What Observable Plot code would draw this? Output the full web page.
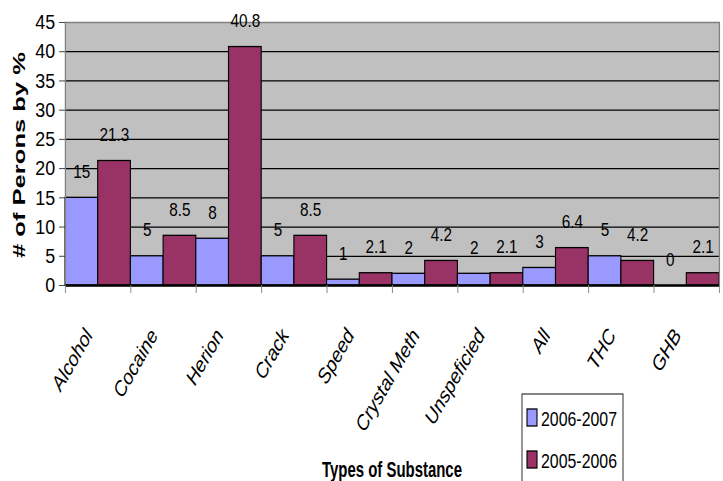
<!DOCTYPE html>
<html>
<head>
<meta charset="utf-8">
<script src="https://cdn.jsdelivr.net/npm/d3@7"></script>
<script src="https://cdn.jsdelivr.net/npm/@observablehq/plot@0.6"></script>
<style>
  html, body { margin: 0; padding: 0; background: #fff; }
  #chart { width: 723px; height: 481px; overflow: hidden; }
</style>
</head>
<body>
<div id="chart"></div>
<script>
// Substance categories and the share of persons (%) per reporting year
const substances = ["Alcohol", "Cocaine", "Herion", "Crack", "Speed", "Crystal Meth", "Unspeficied", "All", "THC", "GHB"];
const years = ["2006-2007", "2005-2006"];
const values2006_2007 = [15, 5, 8, 5, 1, 2, 2, 3, 5, 0];
const values2005_2006 = [21.3, 8.5, 40.8, 8.5, 2.1, 4.2, 2.1, 6.4, 4.2, 2.1];
const yTicks = [0, 5, 10, 15, 20, 25, 30, 35, 40, 45];
const yTitle = "# of Perons by %";
const xTitle = "Types of Substance";

// The chart is laid out on a wider canvas and squeezed horizontally to the page
const OUT_W = 723, OUT_H = 481;
const W = 850, H = OUT_H;
const sx = W / OUT_W;

// One row per bar; each category takes two adjacent slots
const rows = substances.flatMap((s, i) => [
  {substance: s, year: years[0], value: values2006_2007[i], slot: i * 2},
  {substance: s, year: years[1], value: values2005_2006[i], slot: i * 2 + 1}
]);

const font = "'Liberation Sans', Arial, sans-serif";

const svg = Plot.plot({
  width: W,
  height: H,
  marginLeft: 65 * sx,
  marginRight: W - 719 * sx,
  marginTop: 22,
  marginBottom: H - 285,
  x: {domain: [0, substances.length * 2], axis: null},
  y: {domain: [0, 45], axis: null},
  color: {domain: years, range: ["#9999FF", "#993366"]},
  style: {fontFamily: font, background: "transparent", color: "#000", overflow: "visible"},
  marks: [
    Plot.frame({fill: "#C0C0C0"}),
    Plot.ruleY(yTicks.filter(t => t > 0 && t < 45), {stroke: "#000", strokeWidth: 1.2}),
    Plot.rectY(rows, {x1: "slot", x2: d => d.slot + 1, y: "value", fill: "year", stroke: "#000", strokeWidth: 1.3}),
    Plot.frame({stroke: "#808080", strokeWidth: 1.5}),
    Plot.ruleY([0], {stroke: "#000", strokeWidth: 2.5}),
    Plot.axisY({ticks: yTicks, tickSize: 7, tickPadding: 5, fontSize: 21, label: null, stroke: "#333"}),
    Plot.axisX({ticks: d3.range(0, substances.length * 2 + 1, 2), tickFormat: () => "", tickSize: 8, label: null, stroke: "#808080"}),
    Plot.text(substances, {
      x: (d, i) => i * 2 + 1, y: 0, text: d => d,
      rotate: -56, textAnchor: "end", dx: -11, dy: 46,
      fontSize: 21, fontStyle: "italic", fill: "#000"
    }),
    Plot.text(rows, {
      x: d => d.slot + 0.5, y: "value", text: d => String(d.value),
      lineAnchor: "bottom", dy: -20, fontSize: 18, fill: "#000"
    })
  ]
});

const color = svg.scale("color");
const root = d3.select(svg);

// Axis titles
root.append("text")
  .attr("transform", `translate(${19 * sx},155) rotate(-90)`)
  .attr("text-anchor", "middle")
  .attr("dominant-baseline", "central")
  .attr("font-family", font).attr("font-weight", "bold").attr("font-size", 20)
  .attr("textLength", 206).attr("lengthAdjust", "spacingAndGlyphs")
  .text(yTitle);

root.append("text")
  .attr("x", 392 * sx).attr("y", 477)
  .attr("text-anchor", "middle")
  .attr("font-family", font).attr("font-weight", "bold").attr("font-size", 22)
  .attr("textLength", 140 * sx).attr("lengthAdjust", "spacingAndGlyphs")
  .text(xTitle);

// Legend box
const lg = root.append("g").attr("text-anchor", "start");
lg.append("rect")
  .attr("x", 522 * sx).attr("y", 394)
  .attr("width", 101 * sx).attr("height", 120)
  .attr("fill", "#fff").attr("stroke", "#333").attr("stroke-width", 1.2);
years.forEach((yr, i) => {
  const top = 409 + i * 42;
  lg.append("rect")
    .attr("x", 527 * sx).attr("y", top)
    .attr("width", 10 * sx).attr("height", 17)
    .attr("fill", color.apply(yr)).attr("stroke", "#000").attr("stroke-width", 1.3);
  lg.append("text")
    .attr("x", 541 * sx).attr("y", top + 17)
    .attr("text-anchor", "start")
    .attr("font-family", font).attr("font-size", 21)
    .attr("textLength", 76 * sx).attr("lengthAdjust", "spacingAndGlyphs")
    .text(yr);
});

svg.setAttribute("viewBox", `0 0 ${W} ${H}`);
svg.setAttribute("preserveAspectRatio", "none");
svg.setAttribute("width", OUT_W);
svg.setAttribute("height", OUT_H);
svg.style.width = OUT_W + "px";
svg.style.height = OUT_H + "px";
svg.style.maxWidth = "none";
svg.style.display = "block";

document.getElementById("chart").appendChild(svg);
</script>
</body>
</html>
